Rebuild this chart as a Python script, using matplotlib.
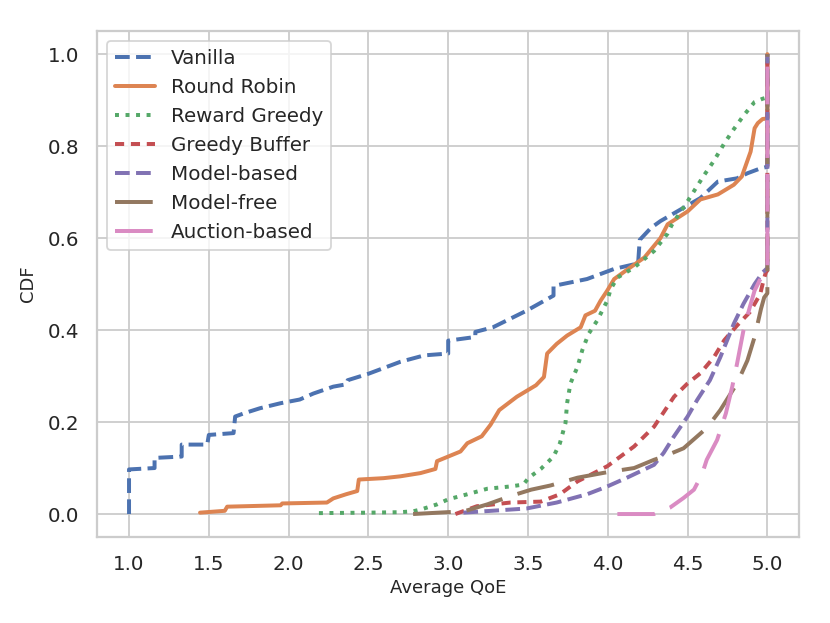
import matplotlib
matplotlib.use("Agg")
import matplotlib.pyplot as plt
import seaborn as sns

# ── data (Average QoE vs CDF) ────────────────────────────────────────────────
vanilla_x = [1.0, 1.0, 1.16, 1.16, 1.33, 1.33, 1.49, 1.50, 1.655, 1.665, 1.72, 1.82,
             1.95, 2.07, 2.155, 2.28, 2.36, 2.37, 2.5, 2.70, 2.85, 3.0, 3.0, 3.17,
             3.17, 3.28, 3.49, 3.66, 3.66, 3.87, 4.04, 4.19, 4.20, 4.27, 4.33, 4.46,
             4.58, 4.69, 4.81, 4.875, 4.96, 5.0, 5.0]
vanilla_y = [0.0, 0.097, 0.10, 0.122, 0.125, 0.151, 0.151, 0.172, 0.176, 0.212, 0.219,
             0.23, 0.241, 0.249, 0.262, 0.277, 0.282, 0.291, 0.305, 0.331, 0.345, 0.349,
             0.377, 0.385, 0.396, 0.406, 0.442, 0.475, 0.496, 0.511, 0.533, 0.545, 0.596,
             0.622, 0.637, 0.663, 0.687, 0.723, 0.730, 0.741, 0.752, 0.755, 1.0]

rr_x = [1.445, 1.60, 1.615, 1.95, 1.96, 2.24, 2.28, 2.36, 2.43, 2.44, 2.595, 2.70,
        2.826, 2.92, 2.93, 3.0, 3.077, 3.12, 3.21, 3.265, 3.32, 3.43, 3.55, 3.60,
        3.62, 3.68, 3.745, 3.83, 3.86, 3.92, 3.955, 3.997, 4.04, 4.14, 4.23, 4.33,
        4.375, 4.50, 4.58, 4.69, 4.79, 4.84, 4.895, 4.92, 4.94, 4.97, 5.0, 5.0]
rr_y = [0.003, 0.007, 0.016, 0.019, 0.023, 0.025, 0.034, 0.043, 0.05, 0.075, 0.078,
        0.082, 0.089, 0.098, 0.115, 0.125, 0.136, 0.154, 0.169, 0.194, 0.226, 0.255,
        0.28, 0.298, 0.349, 0.37, 0.388, 0.406, 0.432, 0.442, 0.464, 0.486, 0.511,
        0.536, 0.558, 0.60, 0.63, 0.658, 0.684, 0.695, 0.716, 0.734, 0.788, 0.839,
        0.85, 0.859, 0.86, 1.0]

rg_x = [2.19, 2.50, 2.70, 2.78, 2.83, 2.93, 3.0, 3.12, 3.245, 3.39, 3.47, 3.505,
        3.58, 3.66, 3.70, 3.735, 3.745, 3.766, 3.81, 3.84, 3.88, 3.934, 3.997, 4.018,
        4.06, 4.165, 4.29, 4.375, 4.40, 4.50, 4.60, 4.665, 4.73, 4.79, 4.85, 4.92,
        4.97, 5.0, 5.0]
rg_y = [0.002, 0.003, 0.004, 0.006, 0.01, 0.021, 0.032, 0.043, 0.055, 0.06, 0.064,
        0.079, 0.098, 0.125, 0.154, 0.198, 0.241, 0.284, 0.32, 0.356, 0.392, 0.421,
        0.464, 0.489, 0.514, 0.536, 0.572, 0.61, 0.628, 0.68, 0.735, 0.768, 0.806,
        0.837, 0.866, 0.896, 0.903, 0.906, 1.0]

gb_x = [3.045, 3.18, 3.39, 3.58, 3.70, 3.81, 3.913, 3.997, 4.165, 4.29, 4.415, 4.50,
        4.58, 4.665, 4.73, 4.81, 4.89, 4.955, 4.975, 4.99, 5.0, 5.0]
gb_y = [0.0, 0.017, 0.025, 0.027, 0.043, 0.071, 0.089, 0.104, 0.147, 0.19, 0.255,
        0.284, 0.306, 0.341, 0.378, 0.41, 0.439, 0.478, 0.507, 0.525, 0.53, 1.0]

mb_x = [3.095, 3.49, 3.68, 3.87, 3.997, 4.12, 4.29, 4.35, 4.415, 4.50, 4.56, 4.64,
        4.705, 4.79, 4.85, 4.92, 4.97, 5.0, 5.0]
mb_y = [0.003, 0.012, 0.025, 0.043, 0.06, 0.079, 0.107, 0.133, 0.169, 0.212, 0.248,
        0.291, 0.341, 0.414, 0.457, 0.50, 0.525, 0.535, 1.0]

mf_x = [2.78, 3.10, 3.245, 3.39, 3.52, 3.64, 3.81, 3.997, 4.165, 4.29, 4.35, 4.475,
        4.62, 4.705, 4.77, 4.81, 4.875, 4.92, 4.96, 4.98, 5.0, 5.0]
mf_y = [0.0, 0.006, 0.021, 0.039, 0.053, 0.062, 0.079, 0.091, 0.10, 0.118, 0.125,
        0.143, 0.187, 0.226, 0.262, 0.284, 0.334, 0.385, 0.446, 0.471, 0.48, 1.0]

ab_x = [4.06, 4.29, 4.39, 4.475, 4.54, 4.59, 4.62, 4.685, 4.74, 4.78, 4.81, 4.85,
        4.89, 4.92, 4.95, 4.99, 5.0, 5.0]
ab_y = [0.0, 0.0, 0.014, 0.035, 0.053, 0.086, 0.118, 0.161, 0.219, 0.277, 0.327,
        0.399, 0.45, 0.486, 0.507, 0.529, 0.535, 1.0]

labels = ["Vanilla", "Round Robin", "Reward Greedy", "Greedy Buffer",
          "Model-based", "Model-free", "Auction-based"]
xticks = [1.0, 1.5, 2.0, 2.5, 3.0, 3.5, 4.0, 4.5, 5.0]
yticks = [0.0, 0.2, 0.4, 0.6, 0.8, 1.0]

# ── style ────────────────────────────────────────────────────────────────────
sns.set_theme(style="whitegrid", palette="deep")
plt.rcParams["font.family"] = ["DejaVu Sans"]
pal = sns.color_palette("deep")

series = [
    (vanilla_x, vanilla_y, "--", None),
    (rr_x, rr_y, "-", None),
    (rg_x, rg_y, ":", None),
    (gb_x, gb_y, "--", (2.3, 1.7)),
    (mb_x, mb_y, "--", None),
    (mf_x, mf_y, "--", (9.5, 4)),
    (ab_x, ab_y, "--", (9.5, 4)),
]

fig = plt.figure(figsize=(830 / 130, 623 / 130), dpi=130)
ax = fig.add_axes([0.117, 0.138, 0.846, 0.812])

for i, (xs, ys, ls, dashes) in enumerate(series):
    kw = dict(color=pal[i], lw=2.2, label=labels[i], linestyle=ls)
    if dashes is not None:
        kw["dashes"] = dashes
    ax.plot(xs, ys, **kw)

ax.set_xticks(xticks)
ax.set_yticks(yticks)
ax.set_xlim(0.8, 5.2)
ax.set_ylim(-0.05, 1.05)
ax.tick_params(axis="both", labelsize=11, length=0, pad=10, colors=".15")
ax.set_xlabel("Average QoE", fontsize=10, labelpad=3, color=".15")
ax.set_ylabel("CDF", fontsize=10, labelpad=6, color=".15")

for s in ax.spines.values():
    s.set_color(".8")
    s.set_linewidth(1.25)

ax.legend(loc="upper left", fontsize=11, frameon=True)

fig.savefig("out.png", dpi=130)
